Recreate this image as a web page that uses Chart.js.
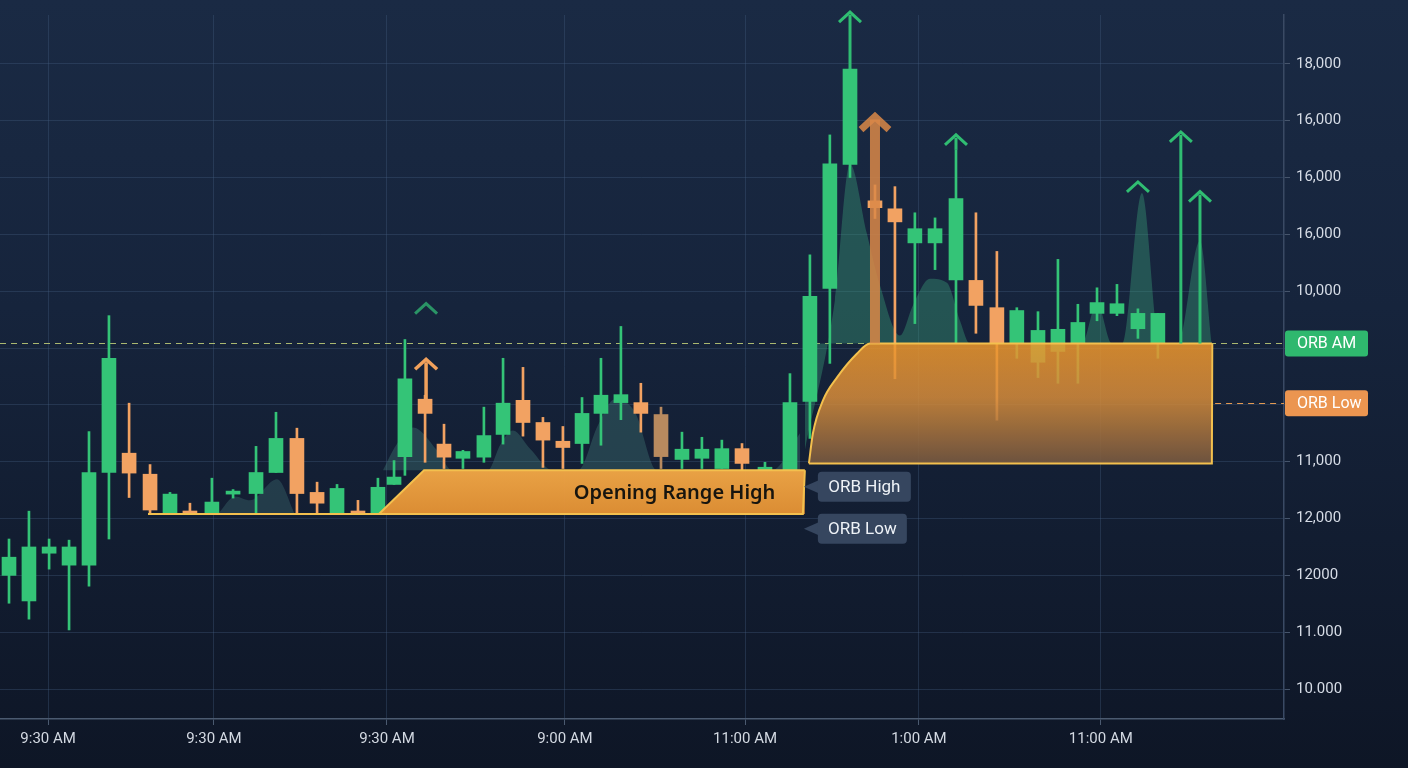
<!DOCTYPE html>
<html>
<head>
<meta charset="utf-8">
<title>Opening Range Breakout</title>
<script src="https://cdn.jsdelivr.net/npm/chart.js@4.4.1/dist/chart.umd.min.js"></script>
<style>
html, body { margin: 0; padding: 0; width: 1408px; height: 768px; overflow: hidden;
  background: linear-gradient(180deg, #1a2a44 0%, #16243c 40%, #0e1626 100%); }
#chart { display: block; }
</style>
</head>
<body>
<canvas id="chart" width="1408" height="768"></canvas>
<script>
// ORB chart - candles, opening range bands, momentum hills

// axis
const xMin = -0.447, xMax = 63.28;
const yMin = -5.27, yMax = 118.6;
const xTickValues = [1.94, 10.17, 18.76, 27.59, 36.53, 45.16, 54.19];
const xTickLabels = ["9:30 AM", "9:30 AM", "9:30 AM", "9:00 AM", "11:00 AM", "1:00 AM", "11:00 AM"];
const yTickValues = [0, 10, 20, 30, 40, 50, 60, 70, 80, 90, 100, 110];
const yTickLabels = ["10.000", "11.000", "12000", "12,000", "11,000", "", "", "10,000", "16,000", "16,000", "16,000", "18,000"];

// candles
const candleX = [0.00, 0.99, 1.99, 2.98, 3.97, 4.96, 5.96, 7.00, 7.99, 8.98,
  10.07, 11.12, 12.26, 13.25, 14.29, 15.29, 16.28, 17.32, 18.31, 19.11,
  19.65, 20.65, 21.59, 22.53, 23.57, 24.52, 25.51, 26.50, 27.49, 28.44,
  29.38, 30.37, 31.36, 32.36, 33.40, 34.39, 35.38, 36.38, 37.52, 38.76,
  39.75, 40.74, 41.74, 42.98, 43.97, 44.96, 45.96, 47.00, 47.99, 49.03,
  50.02, 51.07, 52.06, 53.05, 54.00, 54.99, 56.03, 57.02];
const candleOpen = [20.0, 15.5, 23.9, 21.8, 21.8, 38.1, 41.5, 37.8, 31.0, 31.3,
  31.0, 34.3, 34.4, 38.1, 44.1, 34.6, 31.0, 31.3, 31.0, 36.0,
  40.9, 51.0, 43.1, 40.6, 40.8, 44.8, 50.8, 46.9, 43.6, 43.2,
  48.5, 50.4, 50.4, 48.3, 40.4, 40.6, 38.8, 42.3, 38.5, 38.5,
  50.6, 70.5, 92.3, 85.9, 84.5, 78.5, 78.5, 72.0, 71.9, 67.1,
  60.8, 57.5, 59.4, 60.8, 66.1, 66.1, 63.4, 60.8];
const candleHigh = [26.4, 31.3, 26.4, 26.2, 45.3, 65.7, 50.3, 39.5, 34.6, 32.7,
  37.1, 35.1, 42.7, 48.7, 45.9, 36.4, 36.0, 33.2, 37.1, 40.2,
  61.5, 51.7, 46.6, 42.0, 49.6, 58.2, 56.6, 47.8, 46.2, 51.3,
  58.2, 63.8, 53.8, 49.6, 45.2, 44.3, 43.8, 43.2, 39.9, 55.5,
  76.4, 97.5, 109.1, 88.7, 88.4, 83.8, 82.9, 94.9, 83.8, 77.0,
  67.1, 66.4, 75.6, 67.7, 70.6, 71.2, 66.9, 66.1];
const candleLow = [15.1, 12.3, 21.1, 10.4, 18.1, 26.4, 33.7, 31.0, 31.0, 30.8,
  31.0, 33.6, 31.0, 38.1, 31.0, 31.0, 31.0, 30.8, 31.0, 36.0,
  37.6, 39.9, 38.8, 38.8, 39.9, 43.1, 44.5, 39.0, 38.8, 39.7,
  42.9, 47.4, 45.2, 38.8, 38.8, 38.8, 38.8, 38.5, 38.5, 38.5,
  44.1, 57.3, 90.0, 82.8, 54.6, 64.3, 73.8, 60.8, 62.6, 47.3,
  58.2, 54.8, 53.8, 53.8, 64.8, 65.7, 61.7, 58.2];
const candleClose = [23.2, 25.0, 25.0, 25.0, 38.1, 58.2, 38.0, 31.5, 34.3, 30.8,
  32.9, 34.8, 38.1, 44.1, 34.4, 32.7, 35.3, 30.8, 35.5, 37.3,
  54.6, 48.5, 40.8, 41.8, 44.6, 50.3, 46.9, 43.8, 42.5, 48.5,
  51.7, 51.8, 48.5, 40.9, 42.2, 42.2, 42.3, 39.7, 39.0, 50.4,
  69.1, 92.4, 109.1, 84.7, 82.2, 81.0, 81.0, 86.3, 67.5, 60.8,
  66.6, 63.1, 63.3, 64.5, 68.0, 67.8, 66.1, 66.1];
const mutedCandle = 33;

// opening range levels
const orbAm = 60.8;
const orbLow = 50.3;
const orbLowStart = 59.86;
const band1Base = 30.8, band1Top = 38.5;
const band2Base = 39.7, band2Top = 60.8;
const band1TopX = [6.90, 18.36, 20.60, 39.50];
const band1TopY = [band1Base, band1Base, band1Top, band1Top];
const band1EdgeX = [6.90, 39.40, 39.50];
const band1EdgeY = [band1Base, band1Base, band1Top];
const band2TopX = [39.70, 39.90, 40.40, 41.09, 42.08, 42.73, 59.70];
const band2TopY = [band2Base, 45.0, 50.8, 54.8, 59.0, band2Top, band2Top];
const band2EdgeX = [39.70, 59.70, 59.72];
const band2EdgeY = [band2Base, band2Base, band2Top];

// momentum hills
const hillAX = [10.37, 11.22, 11.96, 13.30, 14.19];
const hillAY = [30.8, 33.9, 33.2, 36.9, 30.8];
const hillBX = [18.56, 19.21, 20.05, 21.24, 21.99, 23.77, 24.37, 25.01, 25.86, 26.99,
  28.24, 29.23, 30.07, 31.07, 32.16, 37.87, 39.26];
const hillBY = [38.5, 42.9, 46.0, 42.0, 38.5, 38.5, 42.9, 45.5, 42.3, 38.5,
  38.5, 46.4, 51.0, 48.7, 38.5, 38.5, 45.0];
const hillCX = [39.50, 40.99, 41.74, 42.58, 43.23, 44.22, 44.86, 45.71, 46.55, 47.20,
  47.69, 53.25, 54.00, 54.74, 55.24, 56.23, 57.12, 58.01, 59.11, 59.70];
const hillCY = [42.0, 68.4, 92.4, 80.1, 71.0, 62.2, 67.5, 72.2, 71.5, 64.8,
  60.8, 60.8, 68.0, 60.8, 60.8, 87.3, 60.8, 60.8, 78.9, 60.8];

// breakout arrows (from = null -> chevron only)
const arrowX = [41.74, 20.70, 47.00, 56.03, 58.16, 59.11, 20.70, 42.98];
const arrowFrom = [109.1, null, 94.9, null, 60.8, 60.8, 51.0, 60.8];
const arrowTo = [119.3, 68.0, 97.7, 89.4, 98.2, 87.7, 58.2, 100.9];
const arrowKind = ['green', 'dim', 'green', 'green', 'green', 'green', 'orange', 'bold'];

// callouts
const calloutText = ["ORB High", "ORB Low"];
const calloutX = [39.45, 39.45];
const calloutY = [35.6, 28.2];

const arrowStyle = {
    green: {color: '#30bd72', width: 3, head: 11},
    dim: {color: '#2a9466', width: 3, head: 11},
    orange: {color: '#f1a15c', width: 3.5, head: 11},
    bold: {color: 'rgba(218,136,72,0.85)', width: 10, headWidth: 7, head: 14}
};

const green = '#34c477', orange = '#f2a262', muted = '#b88a5f';
function candleColor(i){
    if (i === mutedCandle) return muted;
    return candleClose[i] >= candleOpen[i] ? green : orange;
}

const pts = (xs, ys) => xs.map((x, i) => ({x: x, y: ys[i]}));

function vGrad(ctx, topVal, botVal, stops){
    const ch = ctx.chart;
    if (!ch.chartArea) return stops[0][1];
    const y = ch.scales.y;
    const g = ch.ctx.createLinearGradient(0, y.getPixelForValue(topVal), 0, y.getPixelForValue(botVal));
    stops.forEach(s => g.addColorStop(s[0], s[1]));
    return g;
}

const refLines = {
    id: 'refLines',
    beforeDatasetsDraw(chart){
        const {ctx, chartArea: a, scales: {x, y}} = chart;
        ctx.save();
        ctx.lineWidth = 1.2;
        ctx.setLineDash([6, 5]);
        ctx.strokeStyle = 'rgba(196,210,122,0.85)';
        let py = Math.round(y.getPixelForValue(orbAm)) + 0.5;
        ctx.beginPath(); ctx.moveTo(a.left, py); ctx.lineTo(a.right, py); ctx.stroke();
        ctx.strokeStyle = '#e39a52';
        py = Math.round(y.getPixelForValue(orbLow)) + 0.5;
        ctx.beginPath(); ctx.moveTo(x.getPixelForValue(orbLowStart), py); ctx.lineTo(a.right, py); ctx.stroke();
        ctx.restore();
    }
};

const overlays = {
    id: 'overlays',
    afterDatasetsDraw(chart){
        const {ctx, chartArea: a, scales: {x, y}} = chart;

        // arrows
        arrowX.forEach((v, i) => {
            const st = arrowStyle[arrowKind[i]];
            const px = x.getPixelForValue(v);
            const tip = y.getPixelForValue(arrowTo[i]);
            ctx.save();
            ctx.strokeStyle = st.color;
            ctx.lineCap = 'butt';
            ctx.lineJoin = 'miter';
            if (arrowFrom[i] !== null){
                ctx.lineWidth = st.width;
                ctx.beginPath();
                ctx.moveTo(px, y.getPixelForValue(arrowFrom[i]));
                ctx.lineTo(px, tip + 4);
                ctx.stroke();
            }
            ctx.lineWidth = st.headWidth || st.width;
            ctx.beginPath();
            ctx.moveTo(px - st.head, tip + st.head);
            ctx.lineTo(px, tip + 1);
            ctx.lineTo(px + st.head, tip + st.head);
            ctx.stroke();
            ctx.restore();
        });

        // band label
        ctx.save();
        ctx.fillStyle = '#17150f';
        ctx.font = '600 20px "Noto Sans", Roboto, sans-serif';
        ctx.textAlign = 'center';
        ctx.textBaseline = 'middle';
        ctx.fillText("Opening Range High", x.getPixelForValue(33.03), y.getPixelForValue((band1Base + band1Top) / 2) + 1);
        ctx.restore();

        // callouts
        calloutText.forEach((t, i) => {
            const px = x.getPixelForValue(calloutX[i]);
            const py = y.getPixelForValue(calloutY[i]);
            const w = 93 - i * 4;
            ctx.save();
            ctx.fillStyle = '#36465f';
            ctx.beginPath();
            ctx.moveTo(px, py);
            ctx.lineTo(px + 16, py - 7);
            ctx.lineTo(px + 16, py + 7);
            ctx.closePath();
            ctx.fill();
            ctx.beginPath();
            ctx.roundRect(px + 14, py - 15, w, 30, 4);
            ctx.fill();
            ctx.fillStyle = '#eef2f7';
            ctx.font = '17px Roboto, sans-serif';
            ctx.textAlign = 'center';
            ctx.textBaseline = 'middle';
            ctx.fillText(t, px + 14 + w / 2, py + 1);
            ctx.restore();
        });
    },
    afterDraw(chart){
        const {ctx, chartArea: a, scales: {y}} = chart;
        const badges = [[orbAm, "ORB AM", '#2fb86e'], [orbLow, "ORB Low", '#eb9550']];
        badges.forEach(b => {
            const py = y.getPixelForValue(b[0]);
            ctx.save();
            ctx.fillStyle = b[2];
            ctx.beginPath();
            ctx.roundRect(a.right + 1, py - 13, 83, 26, 3);
            ctx.fill();
            ctx.fillStyle = '#ffffff';
            ctx.font = '16px Roboto, sans-serif';
            ctx.textBaseline = 'middle';
            ctx.fillText(b[1], a.right + 13, py + 1);
            ctx.restore();
        });
    }
};

const gridColor = 'rgba(70,95,130,0.35)';
const tickFont = {family: 'Roboto', size: 15};

const mychart = new Chart(document.getElementById('chart'), {
    type: 'bar',
    data: {
        datasets: [
            {
                type: 'line', data: pts(hillAX, hillAY), order: 10,
                pointRadius: 0, borderWidth: 0, borderColor: 'rgba(0,0,0,0)',
                cubicInterpolationMode: 'monotone', fill: {value: band1Base},
                backgroundColor: 'rgba(80,140,135,0.28)'
            },
            {
                type: 'line', data: pts(hillBX, hillBY), order: 10,
                pointRadius: 0, borderWidth: 0, borderColor: 'rgba(0,0,0,0)',
                cubicInterpolationMode: 'monotone', fill: {value: band1Top},
                backgroundColor: 'rgba(80,145,135,0.3)'
            },
            {
                type: 'line', data: pts(hillCX, hillCY), order: 10,
                pointRadius: 0, borderWidth: 0, borderColor: 'rgba(0,0,0,0)',
                cubicInterpolationMode: 'monotone', fill: {value: band2Top},
                backgroundColor: 'rgba(60,170,125,0.36)'
            },
            {
                label: 'wick', data: candleX.map((v, i) => ({x: v, y: [candleLow[i], candleHigh[i]]})),
                barThickness: 2, grouped: false, order: 6,
                backgroundColor: ctx => candleColor(ctx.dataIndex)
            },
            {
                label: 'body', data: candleX.map((v, i) => ({x: v, y: [candleOpen[i], candleClose[i]]})),
                barThickness: 14, minBarLength: 3, grouped: false, order: 5,
                backgroundColor: ctx => candleColor(ctx.dataIndex)
            },
            {
                type: 'line', data: pts(band1TopX, band1TopY), order: 4,
                pointRadius: 0, borderWidth: 2, borderColor: '#f3c04e', tension: 0,
                fill: {value: band1Base},
                backgroundColor: ctx => vGrad(ctx, band1Top, band1Base,
                    [[0, 'rgba(240,166,70,0.97)'], [1, 'rgba(226,144,52,0.97)']])
            },
            {
                type: 'line', data: pts(band1EdgeX, band1EdgeY), order: 3,
                pointRadius: 0, borderWidth: 2, borderColor: '#f3c04e', tension: 0, fill: false
            },
            {
                type: 'line', data: pts(band2TopX, band2TopY), order: 2,
                pointRadius: 0, borderWidth: 2, borderColor: '#f3c04e',
                cubicInterpolationMode: 'monotone', fill: {value: band2Base},
                backgroundColor: ctx => vGrad(ctx, band2Top, band2Base,
                    [[0, 'rgba(236,150,44,0.86)'], [0.45, 'rgba(214,140,58,0.86)'], [1, 'rgba(118,88,64,0.9)']])
            },
            {
                type: 'line', data: pts(band2EdgeX, band2EdgeY), order: 1,
                pointRadius: 0, borderWidth: 2, borderColor: '#f3c04e', tension: 0, fill: false
            }
        ]
    },
    options: {
        responsive: false,
        animation: false,
        devicePixelRatio: 1,
        layout: {padding: {top: 14, left: 0, right: 0, bottom: 0}},
        plugins: {legend: {display: false}, tooltip: {enabled: false}},
        scales: {
            x: {
                type: 'linear', min: xMin, max: xMax, offset: false,
                afterBuildTicks: s => { s.ticks = xTickValues.map(v => ({value: v})); },
                afterFit: s => { s.height = 49; },
                grid: {color: gridColor, offset: false, tickLength: 6, tickColor: '#4b5a70'},
                border: {color: '#4b5a70', width: 1.5},
                ticks: {autoSkip: false, maxRotation: 0, padding: 5, color: '#d3d9e2', font: tickFont,
                    callback: (v, i) => xTickLabels[i]}
            },
            y: {
                type: 'linear', position: 'right', min: yMin, max: yMax,
                afterBuildTicks: s => { s.ticks = yTickValues.map(v => ({value: v})); },
                afterFit: s => { s.width = 124; },
                grid: {color: gridColor, tickLength: 6, tickColor: '#46556c'},
                border: {color: '#3a4a64', width: 1.5},
                ticks: {padding: 6, color: '#d6dce6', font: tickFont,
                    callback: (v, i) => yTickLabels[i]}
            }
        }
    },
    plugins: [refLines, overlays]
});
</script>
</body>
</html>
